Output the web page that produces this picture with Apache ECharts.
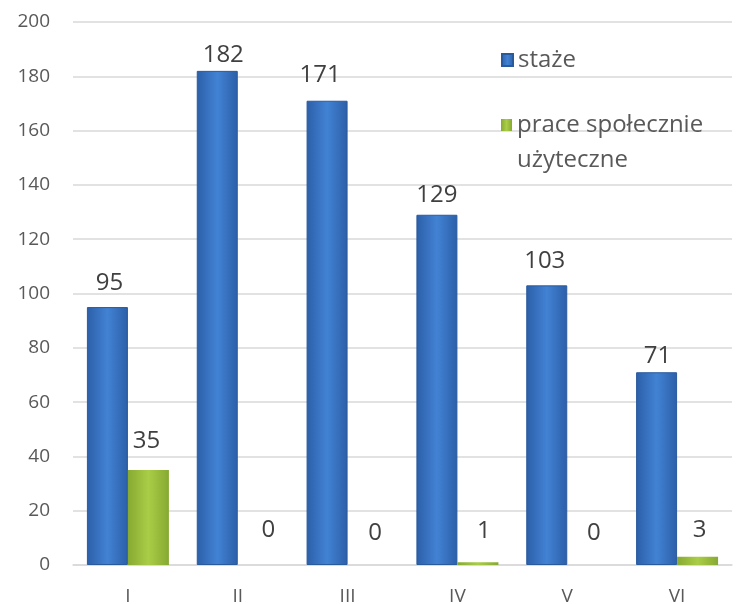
<!DOCTYPE html>
<html>
<head>
<meta charset="utf-8">
<script src="https://cdn.jsdelivr.net/npm/echarts@6/dist/echarts.min.js"></script>
<style>
  html, body { margin: 0; padding: 0; background: #fff; }
  #chart { width: 736px; height: 604px; }
</style>
</head>
<body>
<div id="chart"></div>
<script>
var categories = ['I', 'II', 'III', 'IV', 'V', 'VI'];
var stazeValues = [95, 182, 171, 129, 103, 71];
var praceValues = [35, 0, 0, 1, 0, 3];
var seriesNames = ['staże', 'prace społecznie użyteczne'];
var yTicks = { min: 0, max: 200, interval: 20 };

// label placement tweaks (the labels in the source were moved by hand)
var stazeLabelDist = [12, 4, 14, 7.5, 12, 4.5];
var stazeLabelDx = [2, 6, -7, 0, -2, 1];
var praceLabelDist = [17, 23, 20, 19, 20, 14.5];
var praceLabelDx = [-2, 10, 7, 6, 6, 2];

var FONT = '"Open Sans", sans-serif';

function barGradient(edge, mid) {
  return new echarts.graphic.LinearGradient(0, 0, 1, 0, [
    { offset: 0, color: edge },
    { offset: 0.5, color: mid },
    { offset: 1, color: edge }
  ]);
}

function withLabels(values, dist, dx) {
  return values.map(function (v, i) {
    return { value: v, label: { distance: dist[i], offset: [dx[i], 0] } };
  });
}

var myChart = echarts.init(document.getElementById('chart'));

var option = {
  animation: false,
  grid: { left: 73, right: 4, top: 22, bottom: 39, outerBoundsMode: 'none' },
  legend: [
    {
      data: [seriesNames[0]],
      left: 496,
      top: 43,
      itemWidth: 11,
      itemHeight: 12,
      itemGap: 0,
      icon: 'rect',
      textStyle: { fontFamily: FONT, fontSize: 24, color: '#595959' }
    },
    {
      data: [seriesNames[1]],
      left: 496,
      top: 108,
      itemWidth: 11,
      itemHeight: 12,
      icon: 'rect',
      formatter: function () {
        return '{a|prace społecznie}\n{a|użyteczne}';
      },
      textStyle: {
        fontFamily: FONT, fontSize: 24, color: '#595959',
        padding: [35, 0, 0, 0],
        rich: { a: { fontFamily: FONT, fontSize: 24, color: '#595959', lineHeight: 35 } }
      }
    }
  ],
  xAxis: {
    type: 'category',
    data: categories,
    axisLine: { lineStyle: { color: '#d9d9d9', width: 1.5 } },
    axisTick: { show: false },
    axisLabel: { fontFamily: FONT, fontSize: 19, color: '#595959', margin: 22 }
  },
  yAxis: {
    type: 'value',
    min: yTicks.min,
    max: yTicks.max,
    interval: yTicks.interval,
    axisLine: { show: false },
    axisTick: { show: false },
    axisLabel: { fontFamily: FONT, fontSize: 19, color: '#595959', margin: 23 },
    splitLine: { lineStyle: { color: '#d9d9d9', width: 1.5 } }
  },
  series: [
    {
      name: seriesNames[0],
      type: 'bar',
      data: withLabels(stazeValues, stazeLabelDist, stazeLabelDx),
      barWidth: 41,
      barGap: '0%',
      itemStyle: {
        color: barGradient('#2c5fa8', '#4282d4'),
        borderColor: '#2a5a9e',
        borderWidth: 1
      },
      label: {
        show: true,
        position: 'top',
        fontFamily: FONT,
        fontSize: 24,
        color: '#404040'
      }
    },
    {
      name: seriesNames[1],
      type: 'bar',
      data: withLabels(praceValues, praceLabelDist, praceLabelDx),
      barWidth: 41,
      itemStyle: {
        color: barGradient('#86a932', '#aacd47')
      },
      label: {
        show: true,
        position: 'top',
        fontFamily: FONT,
        fontSize: 24,
        color: '#404040'
      }
    }
  ]
};

option && myChart.setOption(option);
</script>
</body>
</html>
